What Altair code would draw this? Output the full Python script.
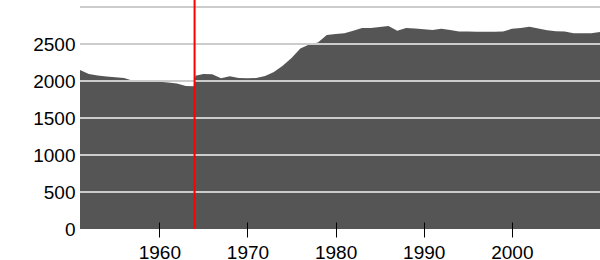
import altair as alt
import pandas as pd

years = [1951, 1952, 1953, 1954, 1955, 1956, 1957, 1958, 1959, 1960,
         1961, 1962, 1963, 1963.9, 1964.1, 1965, 1966, 1967, 1968, 1969,
         1970, 1971, 1972, 1973, 1974, 1975, 1976, 1977, 1978, 1979,
         1980, 1981, 1982, 1983, 1984, 1985, 1986, 1987, 1988, 1989,
         1990, 1991, 1992, 1993, 1994, 1995, 1996, 1997, 1998, 1999,
         2000, 2001, 2002, 2003, 2004, 2005, 2006, 2007, 2008, 2009, 2010]
values = [2150, 2095, 2075, 2060, 2050, 2040, 2005, 2000, 1995, 1990,
          1980, 1965, 1932, 1930, 2070, 2095, 2092, 2036, 2063, 2040,
          2036, 2040, 2068, 2122, 2207, 2310, 2441, 2495, 2520, 2621,
          2635, 2645, 2680, 2716, 2716, 2730, 2743, 2680, 2716, 2710,
          2698, 2690, 2707, 2690, 2670, 2668, 2666, 2666, 2666, 2668,
          2705, 2715, 2734, 2710, 2685, 2671, 2668, 2645, 2644, 2644, 2661]

x_ticks = [1960, 1970, 1980, 1990, 2000]
y_labels = [0, 500, 1000, 1500, 2000, 2500]
grid_values = [500, 1000, 1500, 2000, 2500, 3000]
marker_year = [1964]

df = pd.DataFrame({"year": years, "value": values})
grid_df = pd.DataFrame({"g": grid_values})
marker_df = pd.DataFrame({"year": marker_year})

FONT = "Liberation Sans"

xscale = alt.Scale(domain=[1951, 2010], nice=False, zero=False)
yscale = alt.Scale(domain=[0, 3095], nice=False)

area = alt.Chart(df).mark_area(color="#555555", opacity=1).encode(
    x=alt.X("year:Q", scale=xscale, title=None,
            axis=alt.Axis(values=x_ticks, format="d", grid=False, domain=False,
                          ticks=True, tickSize=15, tickColor="black", tickWidth=1,
                          offset=-7, labelPadding=6, labelFontSize=19,
                          labelFont=FONT, labelColor="black", zindex=1)),
    y=alt.Y("value:Q", scale=yscale, title=None,
            axis=alt.Axis(values=y_labels, format="d", grid=False, domain=False,
                          ticks=False, tickSize=0, labelPadding=5, labelFontSize=19,
                          labelFont=FONT, labelColor="black")),
)

grid = alt.Chart(grid_df).mark_rule(color="#cccccc", strokeWidth=2).encode(
    y=alt.Y("g:Q", scale=yscale),
)

marker = alt.Chart(marker_df).mark_rule(color="#ff0000", strokeWidth=2).encode(
    x=alt.X("year:Q", scale=xscale),
)

chart = alt.layer(area, grid, marker).properties(
    width=520, height=229,
    autosize=alt.AutoSizeParams(type="none"),
    padding={"left": 80, "top": 0, "right": 0, "bottom": 31},
).configure_view(stroke=None)

chart.save("out.html", embed_options={"renderer": "svg", "actions": False})
